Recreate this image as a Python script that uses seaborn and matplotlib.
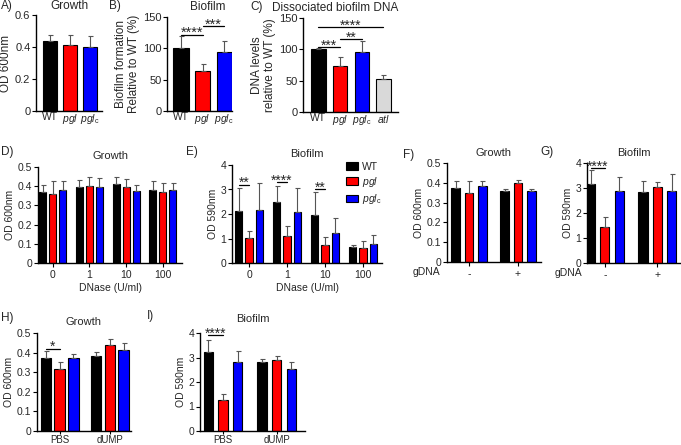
import numpy as np
import pandas as pd
import matplotlib
matplotlib.use("Agg")
import matplotlib.pyplot as plt
from matplotlib.ticker import FuncFormatter
import seaborn as sns

# =========================
# strains / colours
# =========================
WT = "WT"
PGL = r"$\mathit{pgl}$"
PGLC = r"$\mathit{pgl}_{\mathrm{c}}$"
ATL = r"$\mathit{atl}$"
STRAINS = [WT, PGL, PGLC]
COLORS = {WT: "#000000", PGL: "#ff0000", PGLC: "#0000ff", ATL: "#d9d9d9"}

# =========================
# data (mean, upper SD)
# =========================
A_mean = [0.44, 0.415, 0.40]
A_sd = [0.035, 0.06, 0.068]

B_mean = [100, 64, 94]
B_sd = [20, 11, 17]

C_labels = [WT, PGL, PGLC, ATL]
C_mean = [100, 73, 96, 52]
C_sd = [2, 14, 17, 7]

DNASE = ["0", "1", "10", "100"]
D_mean = {WT: [0.37, 0.395, 0.41, 0.38], PGL: [0.36, 0.40, 0.395, 0.372], PGLC: [0.382, 0.395, 0.376, 0.38]}
D_sd = {WT: [0.037, 0.036, 0.037, 0.047], PGL: [0.065, 0.05, 0.043, 0.043], PGLC: [0.046, 0.047, 0.03, 0.036]}

E_mean = {WT: [2.12, 2.47, 1.95, 0.65], PGL: [1.03, 1.10, 0.75, 0.63], PGLC: [2.18, 2.08, 1.22, 0.78]}
E_sd = {WT: [0.93, 0.67, 0.93, 0.10], PGL: [0.27, 0.43, 0.30, 0.25], PGLC: [1.07, 0.97, 0.63, 0.38]}

GDNA = ["-", "+"]
F_mean = {WT: [0.375, 0.36], PGL: [0.35, 0.40], PGLC: [0.385, 0.357]}
F_sd = {WT: [0.034, 0.008], PGL: [0.058, 0.015], PGLC: [0.023, 0.01]}

G_mean = {WT: [3.17, 2.86], PGL: [1.45, 3.03], PGLC: [2.90, 2.87]}
G_sd = {WT: [0.55, 0.42], PGL: [0.38, 0.23], PGLC: [0.53, 0.70]}

TREAT = ["PBS", "dUMP"]
H_mean = {WT: [0.37, 0.385], PGL: [0.315, 0.44], PGLC: [0.37, 0.415]}
H_sd = {WT: [0.04, 0.02], PGL: [0.037, 0.03], PGLC: [0.025, 0.036]}

I_mean = {WT: [3.22, 2.80], PGL: [1.25, 2.88], PGLC: [2.83, 2.55]}
I_sd = {WT: [0.50, 0.15], PGL: [0.25, 0.18], PGLC: [0.45, 0.25]}

# significance: (bar i, bar j, y, stars)
B_sig = [(0, 1, 122, "****"), (1, 2, 135, "***")]
C_sig = [(0, 3, 135, "****"), (1, 2, 116, "**"), (0, 1, 103, "***")]
E_sig = [(0, 1, 3.2, "**"), (3, 4, 3.3, "****"), (6, 7, 3.0, "**")]
G_sig = [(0, 1, 3.8, "****")]
H_sig = [(0, 1, 0.42, "*")]
I_sig = [(0, 1, 3.9, "****")]

# =========================
# style
# =========================
sns.set_theme(style="ticks")
plt.rcParams["font.family"] = ["Liberation Sans", "DejaVu Sans"]
plt.rcParams["mathtext.fontset"] = "custom"
plt.rcParams["mathtext.rm"] = "Liberation Sans"
plt.rcParams["mathtext.it"] = "Liberation Sans:italic"
plt.rcParams["axes.linewidth"] = 1.0
plt.rcParams["axes.edgecolor"] = "black"

W, H = 681, 445
fig = plt.figure(figsize=(W / 100, H / 100), dpi=100)


def px_axes(x0, y0, x1, y1):
    return fig.add_axes([x0 / W, 1 - y1 / H, (x1 - x0) / W, (y1 - y0) / H])


def finish(ax, ylim, yticks, ylabel, fs, xfs, lfs, xlim, xticks=True):
    ax.set_ylim(*ylim)
    ax.set_yticks(yticks)
    ax.yaxis.set_major_formatter(FuncFormatter(lambda v, p: f"{v:g}"))
    ax.set_xlim(*xlim)
    ax.set_ylabel(ylabel, fontsize=lfs, labelpad=2, linespacing=1.1)
    ax.set_xlabel("")
    ax.tick_params(axis="y", labelsize=fs, length=3, width=0.8, pad=1, color="black")
    ax.tick_params(axis="x", labelsize=xfs, length=3 if xticks else 0, width=0.8,
                   pad=2 if xticks else 1, color="black")
    sns.despine(ax=ax)


def add_errors(ax, means):
    bars = sorted([b for c in ax.containers for b in c], key=lambda b: b.get_x())
    for b, (m, s) in zip(bars, means):
        x = b.get_x() + b.get_width() / 2
        ax.errorbar(x, m, yerr=[[0], [s]], fmt="none", ecolor="#555555",
                    elinewidth=0.8, capsize=1.8, capthick=0.8, zorder=1)
    return bars


def add_sig(ax, bars, sig, fs=10):
    for i, j, y, txt in sig:
        xi = bars[i].get_x() + bars[i].get_width() / 2
        xj = bars[j].get_x() + bars[j].get_width() / 2
        ax.plot([xi, xj], [y, y], color="black", lw=0.9, clip_on=False)
        ax.annotate(txt, ((xi + xj) / 2, y), xytext=(0, -4), textcoords="offset points",
                    ha="center", va="bottom", fontsize=fs, annotation_clip=False)


def single(ax, labels, mean, sd, width):
    pal = [COLORS[l] for l in labels]
    sns.barplot(x=labels, y=mean, hue=labels, palette=pal, legend=False, errorbar=None,
                width=width, saturation=1, edgecolor="black", linewidth=0.8, ax=ax)
    return add_errors(ax, list(zip(mean, sd)))


def grouped(ax, groups, mean, sd, gap, legend=False):
    df = pd.DataFrame([(g, s, mean[s][i]) for s in STRAINS for i, g in enumerate(groups)],
                      columns=["group", "strain", "value"])
    sns.barplot(data=df, x="group", y="value", hue="strain", order=groups, hue_order=STRAINS,
                palette=COLORS, errorbar=None, width=0.82, gap=gap, saturation=1,
                edgecolor="black", linewidth=0.8, legend=legend, ax=ax)
    flat = [(mean[s][i], sd[s][i]) for i in range(len(groups)) for s in STRAINS]
    return add_errors(ax, flat)


# =========================
# A) Growth
# =========================
ax = px_axes(36, 15, 102, 111)
bars = single(ax, STRAINS, A_mean, A_sd, 0.71)
finish(ax, (0, 0.6), [0, 0.2, 0.4, 0.6], "OD 600nm", 8, 7.5, 8.5, (-0.73, 2.61), xticks=False)
ax.set_title("Growth", fontsize=8.5, pad=4)

# B) Biofilm
ax = px_axes(167, 17, 232, 111)
bars = single(ax, STRAINS, B_mean, B_sd, 0.7)
finish(ax, (0, 150), [0, 50, 100, 150], "Biofilm formation\nRelative to WT (%)", 8, 7.5, 8.5,
       (-0.65, 2.37), xticks=False)
add_sig(ax, bars, B_sig, 10.5)
ax.set_title("Biofilm", fontsize=8.5, pad=5, x=0.62)

# C) Dissociated biofilm DNA
ax = px_axes(303, 18, 398, 112)
bars = single(ax, C_labels, C_mean, C_sd, 0.67)
finish(ax, (0, 150), [0, 50, 100, 150], "DNA levels\nrelative to WT (%)", 8, 7.5, 8.5,
       (-0.71, 3.67), xticks=False)
add_sig(ax, bars, C_sig, 10)
ax.set_title("Dissociated biofilm DNA", fontsize=8.5, pad=5, x=0.34)

# D) Growth + DNase
ax = px_axes(38, 167, 182, 263)
bars = grouped(ax, DNASE, D_mean, D_sd, 0.3)
finish(ax, (0, 0.5), [0, 0.1, 0.2, 0.3, 0.4, 0.5], "OD 600nm", 7.5, 7.5, 7.5, (-0.4, 3.52))
ax.set_xlabel("DNase (U/ml)", fontsize=7.5, labelpad=2)
ax.set_title("Growth", fontsize=8, pad=6)

# E) Biofilm + DNase
ax = px_axes(232, 165, 382, 263)
bars = grouped(ax, DNASE, E_mean, E_sd, 0.3, legend=True)
finish(ax, (0, 4), [0, 1, 2, 3, 4], "OD 590nm", 7.5, 7.5, 7.5, (-0.45, 3.5))
ax.set_xlabel("DNase (U/ml)", fontsize=7.5, labelpad=2)
ax.set_title("Biofilm", fontsize=8, pad=6)
add_sig(ax, bars, E_sig, 10)
sns.move_legend(ax, "upper left", bbox_to_anchor=(0.7, 1.13), frameon=False, title=None,
                fontsize=7.5, handlelength=1.1, handleheight=0.7, labelspacing=0.3, handletextpad=0.4)

# F) Growth + gDNA
ax = px_axes(447, 163, 541, 262)
bars = grouped(ax, GDNA, F_mean, F_sd, 0.35)
finish(ax, (0, 0.5), [0, 0.1, 0.2, 0.3, 0.4, 0.5], "OD 600nm", 7.5, 7.5, 7.5, (-0.45, 1.47))
ax.set_title("Growth", fontsize=8, pad=5)
ax.text(-0.07, -0.105, "gDNA", transform=ax.transAxes, ha="right", va="center", fontsize=7.5)

# G) Biofilm + gDNA
ax = px_axes(587, 163, 681, 263)
bars = grouped(ax, GDNA, G_mean, G_sd, 0.37)
finish(ax, (0, 4), [0, 1, 2, 3, 4], "OD 590nm", 7.5, 7.5, 7.5, (-0.34, 1.45))
ax.set_title("Biofilm", fontsize=8, pad=5)
add_sig(ax, bars, G_sig, 10)
ax.text(-0.05, -0.1, "gDNA", transform=ax.transAxes, ha="right", va="center", fontsize=7.5)

# H) Growth + dUMP
ax = px_axes(37, 333, 131, 431)
bars = grouped(ax, TREAT, H_mean, H_sd, 0.25)
finish(ax, (0, 0.5), [0, 0.1, 0.2, 0.3, 0.4, 0.5], "OD 600nm", 7.5, 7, 7.5, (-0.45, 1.42))
ax.tick_params(axis="x", pad=0.5, length=2.5)
ax.set_title("Growth", fontsize=8, pad=6)
add_sig(ax, bars, H_sig, 10)

# I) Biofilm + dUMP
ax = px_axes(200, 333, 305, 431)
bars = grouped(ax, TREAT, I_mean, I_sd, 0.36)
finish(ax, (0, 4), [0, 1, 2, 3, 4], "OD 590nm", 7.5, 7, 7.5, (-0.43, 1.53))
ax.tick_params(axis="x", pad=0.5, length=2.5)
ax.set_title("Biofilm", fontsize=8, pad=8)
add_sig(ax, bars, I_sig, 10)

# panel letters
for lab, x, y in [("A)", 1, 6), ("B)", 109, 6), ("C)", 250, 7), ("D)", 1, 152), ("E)", 186, 152),
                  ("F)", 403, 155), ("G)", 540, 152), ("H)", 1, 318), ("I)", 147, 316)]:
    fig.text(x / W, 1 - y / H, lab, fontsize=8.5, ha="left", va="center")

fig.savefig("out.png", dpi=100)
